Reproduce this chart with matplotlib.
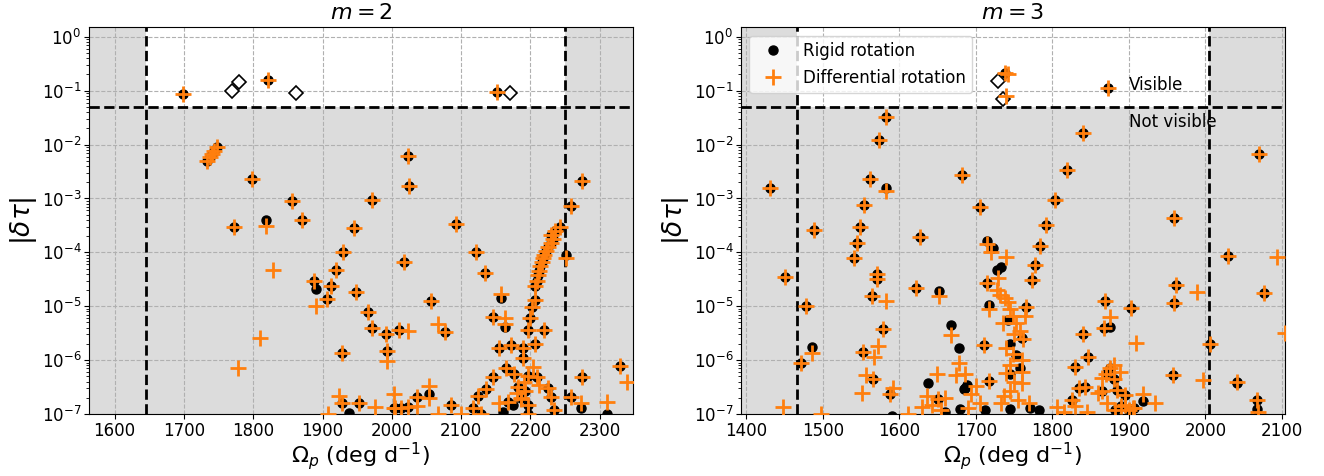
import matplotlib
matplotlib.use("Agg")
import matplotlib.pyplot as plt
import numpy as np

# ---------------- m = 2 data ----------------
# points where rigid and differential rotation coincide
m2_both_om = [1699, 1733, 1737, 1740, 1744, 1748, 1821, 1798, 1856, 1772, 1870, 1945, 1972,
              2023, 2025, 2093, 2152, 2274, 2259, 2242, 2230, 2236, 2233, 2229, 2226, 2222,
              2220, 2218, 2216, 2214, 2212, 2211, 2209, 2207, 2206, 2202, 2199, 2197,
              1930, 2017, 1919, 1912, 1906, 1948, 1965, 1972, 1991, 2011, 2057, 1928, 1993,
              2077, 2121, 2135, 2146, 2154, 2172, 2189, 2206, 2220, 2189, 2165, 2177, 2146,
              2197, 2209, 2182, 2226, 2230, 2234, 2259, 2274, 2329, 2037, 2023, 2003, 2013,
              2086, 2117, 2124, 2136, 2129, 2168, 2192, 2196, 2197, 1928, 1953, 2004, 2187]
m2_both_tau = [0.088, 5.0e-3, 6.0e-3, 6.8e-3, 7.7e-3, 9.2e-3, 0.16, 2.3e-3, 8.8e-4, 3.0e-4, 3.9e-4, 2.8e-4, 9.5e-4,
               6.2e-3, 1.73e-3, 3.4e-4, 0.093, 2.15e-3, 7.3e-4, 2.9e-4, 2.1e-4, 2.5e-4, 1.8e-4, 1.5e-4, 1.25e-4, 1.05e-4,
               9e-5, 7.8e-5, 6.5e-5, 5.5e-5, 4.6e-5, 3.8e-5, 3.0e-5, 2.4e-5, 1.3e-5, 9.8e-6, 6e-6, 3.6e-6,
               1e-4, 6.7e-5, 4.7e-5, 2.4e-5, 1.37e-5, 1.8e-5, 7.9e-6, 4.0e-6, 3.1e-6, 3.6e-6, 1.26e-5, 1.34e-6, 1.5e-6,
               3.3e-6, 1e-4, 4.1e-5, 6.4e-6, 1.66e-6, 1.9e-6, 1.7e-6, 1.95e-6, 3.6e-6, 1.1e-6, 7e-7, 5.5e-7, 4.9e-7,
               5e-7, 4.8e-7, 3.2e-7, 3e-7, 2.1e-7, 1.2e-7, 2.1e-7, 4.9e-7, 7.8e-7, 2.1e-7, 1.36e-7, 1.27e-7, 1.27e-7,
               1.47e-7, 1.27e-7, 2.2e-7, 2.9e-7, 1.0e-7, 1.7e-7, 2.7e-7, 1.5e-7, 1.0e-7, 1.58e-7, 1.58e-7, 1.3e-7, 2.0e-7]
# rigid rotation only
m2_rig_om = [1818, 1887, 1891, 2157, 2164, 2251, 2310, 2054, 1938, 2160, 2273, 2175]
m2_rig_tau = [3.9e-4, 2.9e-5, 2.1e-5, 1.45e-5, 4.2e-6, 8.9e-5, 1.0e-7, 2.4e-7, 1.05e-7, 1.1e-7, 1.3e-7, 1.5e-7]
# differential rotation only
m2_dif_om = [1818, 1828, 1887, 1891, 1810, 1778, 2024, 1993, 2066, 2163, 2163, 2157, 2251, 2203,
             2340, 2310, 2273, 2054, 2054, 2037, 2003, 1976, 1924, 1908, 2066, 2100, 2155, 2180,
             2186, 2190, 2212]
m2_dif_tau = [3.1e-4, 4.7e-5, 3.0e-5, 1.0e-5, 2.6e-6, 7.0e-7, 3.4e-6, 9.6e-7, 4.7e-6, 6e-6, 4.7e-6, 1.67e-5, 7.8e-5, 7.4e-7,
              4.0e-7, 1.65e-7, 1.6e-7, 3.3e-7, 1.95e-7, 1.4e-7, 2.4e-7, 1.36e-7, 2.2e-7, 1.0e-7, 1.0e-7, 1.0e-7, 1.58e-7, 2.5e-7,
              1.9e-7, 4e-7, 3.5e-7]
# open diamonds
m2_diam_om = [1769, 1780, 1861, 2170]
m2_diam_tau = [0.10, 0.146, 0.091, 0.091]

# ---------------- m = 3 data ----------------
m3_both_om = [1738, 1873, 1582, 1573, 1840, 2070, 1819, 1562, 1431, 1682, 1803, 1706, 1554, 1548,
              1489, 1792, 1959, 1627, 1544, 1784, 1541, 2030, 1777, 1773, 1450, 1571, 1571, 1622,
              1564, 1715, 1478, 1961, 1959, 2077, 1869, 1903, 1766, 1840, 1579, 1868, 2006, 1553,
              1711, 1472, 1847, 1829, 1957, 1565, 1717, 2041, 1588, 1650, 2068, 1826, 1843, 1870,
              1875, 1880, 1885, 1895, 1890, 1900, 1882, 1865, 1835, 1907]
m3_both_tau = [0.21, 0.11, 0.033, 0.012, 0.0164, 6.7e-3, 3.4e-3, 2.3e-3, 1.56e-3, 2.75e-3, 9.2e-4, 6.9e-4, 7.6e-4, 3.0e-4,
               2.6e-4, 3.2e-4, 4.3e-4, 1.9e-4, 1.48e-4, 1.3e-4, 7.8e-5, 8.6e-5, 5.9e-5, 3.1e-5, 3.55e-5, 3.9e-5, 3.2e-5, 2.15e-5,
               1.58e-5, 2.7e-5, 1.02e-5, 2.5e-5, 1.14e-5, 1.74e-5, 1.27e-5, 9.2e-6, 9.5e-6, 3.05e-6, 3.8e-6, 4.0e-6, 2.0e-6, 1.44e-6,
               1.9e-6, 8.7e-7, 1.12e-6, 7.6e-7, 5.3e-7, 4.4e-7, 4.1e-7, 4.0e-7, 2.4e-7, 1.9e-7, 1.8e-7, 1.8e-7, 3.2e-7, 5.5e-7,
               7e-7, 4.5e-7, 2.8e-7, 2.3e-7, 1.4e-7, 1.2e-7, 1.2e-7, 2.7e-7, 3.0e-7, 1.3e-7]
m3_rig_om = [1583, 1652, 1668, 1678, 1638, 1684, 1689, 1486, 1715, 1723, 1727, 1733, 1717, 1742,
             1760, 1744, 1753, 1757, 1744, 1744, 1771, 1782, 1712, 1659, 1679, 1590, 1919, 1875,
             2041, 2068, 1686]
m3_rig_tau = [1.56e-3, 1.95e-5, 4.5e-6, 1.7e-6, 3.8e-7, 2.9e-7, 3.5e-7, 1.78e-6, 1.6e-4, 1.2e-4, 4.8e-5, 5.3e-5, 1.05e-5, 5.6e-6,
              2.6e-6, 2.0e-6, 1.23e-6, 7e-7, 5.6e-7, 1.26e-7, 1.3e-7, 1.2e-7, 1.17e-7, 1.1e-7, 1.26e-7, 9e-8, 1.76e-7, 4.2e-6,
              3.8e-7, 1.25e-7, 3.1e-7]
m3_dif_om = [1742, 1739, 1583, 1715, 1720, 1739, 1729, 1727, 1731, 1738, 1742, 1744, 1748, 1764,
             1736, 1753, 1758, 1750, 1762, 1740, 1748, 1760, 1745, 1760, 1740, 1750, 1760, 1737,
             1745, 1733, 1755, 1770, 1806, 1652, 1668, 1678, 1649, 1674, 1686, 1636, 1659, 1629,
             1642, 1655, 1700, 1693, 1705, 1690, 1486, 1448, 1497, 1582, 1572, 1567, 1557, 1551,
             1592, 1611, 1717, 1875, 1909, 1989, 2094, 1997, 1918, 1934, 2069, 2104, 1880, 1865,
             1888, 1860, 1872, 1895, 1905, 1830, 1845, 1815]
m3_dif_tau = [0.2, 0.079, 1.35e-3, 1.4e-4, 1.0e-4, 8.3e-5, 3.3e-5, 2.0e-5, 1.6e-5, 1.4e-5, 1.2e-5, 9e-6, 6.5e-6, 6.5e-6,
              4.8e-6, 4.8e-6, 3.5e-6, 3.0e-6, 2.5e-6, 1.66e-6, 1.3e-6, 1.0e-6, 8e-7, 6e-7, 5.8e-7, 4e-7, 3.7e-7, 2.2e-7,
              2.7e-7, 1.6e-7, 1.8e-7, 1.58e-7, 1.36e-7, 1.55e-5, 2.9e-6, 8.7e-7, 5.5e-7, 5.3e-7, 5.5e-7, 2.2e-7, 1.95e-7, 1.35e-7,
              1.5e-7, 1.2e-7, 3.3e-7, 2.4e-7, 1.6e-7, 1.3e-7, 1.38e-6, 1.36e-7, 1.0e-7, 1.23e-5, 1.82e-6, 1.16e-6, 5.3e-7, 2.5e-7,
              3e-7, 1e-7, 8.7e-6, 6.4e-6, 2.1e-6, 1.87e-5, 8.1e-5, 4.2e-7, 2.4e-7, 1.58e-7, 1.1e-7, 3.2e-6, 8e-7, 4.6e-7,
              6e-7, 2.5e-7, 1.6e-7, 1.5e-7, 1.3e-7, 1.4e-7, 1.1e-7, 1.1e-7]
m3_diam_om = [1729, 1736]
m3_diam_tau = [0.154, 0.071]

# visibility limits (frequency window and amplitude threshold)
m2_window = (1645, 2250)
m3_window = (1466, 2005)
tau_limit = 0.05


def draw_panel(ax, title, window, xlim, both, rig, dif, diam):
    ax.set_yscale('log')
    ax.set_xlim(*xlim)
    ax.set_ylim(1e-7, 1.5)

    # grey = not visible, white box = visible
    ax.set_facecolor('#dcdcdc')
    ax.fill_between(list(window), tau_limit, 10, color='white', zorder=0.5, lw=0)
    ax.grid(True, which='major', ls='--', color='#b0b0b0', lw=0.8, zorder=1)

    ax.axvline(window[0], color='k', ls='--', lw=2, zorder=1.8)
    ax.axvline(window[1], color='k', ls='--', lw=2, zorder=1.8)
    ax.axhline(tau_limit, color='k', ls='--', lw=2, zorder=1.8)

    ax.plot(diam[0], diam[1], 'D', ms=7, mfc='white', mec='k', mew=1.2, ls='none', zorder=2)
    ax.plot(both[0] + rig[0], both[1] + rig[1], 'o', color='k', ms=6.5, ls='none',
            zorder=3, label='Rigid rotation')
    ax.plot(both[0] + dif[0], both[1] + dif[1], '+', color='#ff7f0e', ms=11, mew=2,
            ls='none', zorder=4, label='Differential rotation')

    ax.set_title(title, fontsize=16)
    ax.set_xlabel(r'$\Omega_p$ (deg d$^{-1}$)', fontsize=16, labelpad=0)
    ax.set_ylabel(r'$|\delta\tau|$', fontsize=19, labelpad=2)
    ax.tick_params(labelsize=12, pad=2)


fig = plt.figure(figsize=(13.24, 4.76), dpi=100)
ax1 = fig.add_axes([89 / 1324, 62 / 476, 544 / 1324, 386.7 / 476])
ax2 = fig.add_axes([741 / 1324, 62 / 476, 544 / 1324, 386.7 / 476])

draw_panel(ax1, r'$m = 2$', m2_window, (1563, 2348),
           (m2_both_om, m2_both_tau), (m2_rig_om, m2_rig_tau),
           (m2_dif_om, m2_dif_tau), (m2_diam_om, m2_diam_tau))
draw_panel(ax2, r'$m = 3$', m3_window, (1393, 2104),
           (m3_both_om, m3_both_tau), (m3_rig_om, m3_rig_tau),
           (m3_dif_om, m3_dif_tau), (m3_diam_om, m3_diam_tau))

ax2.legend(loc='upper left', fontsize=12, framealpha=0.8)
ax2.text(1900, 0.13, 'Visible', fontsize=12, va='center')
ax2.text(1900, 0.026, 'Not visible', fontsize=12, va='center')

fig.savefig('out.png', dpi=100)
